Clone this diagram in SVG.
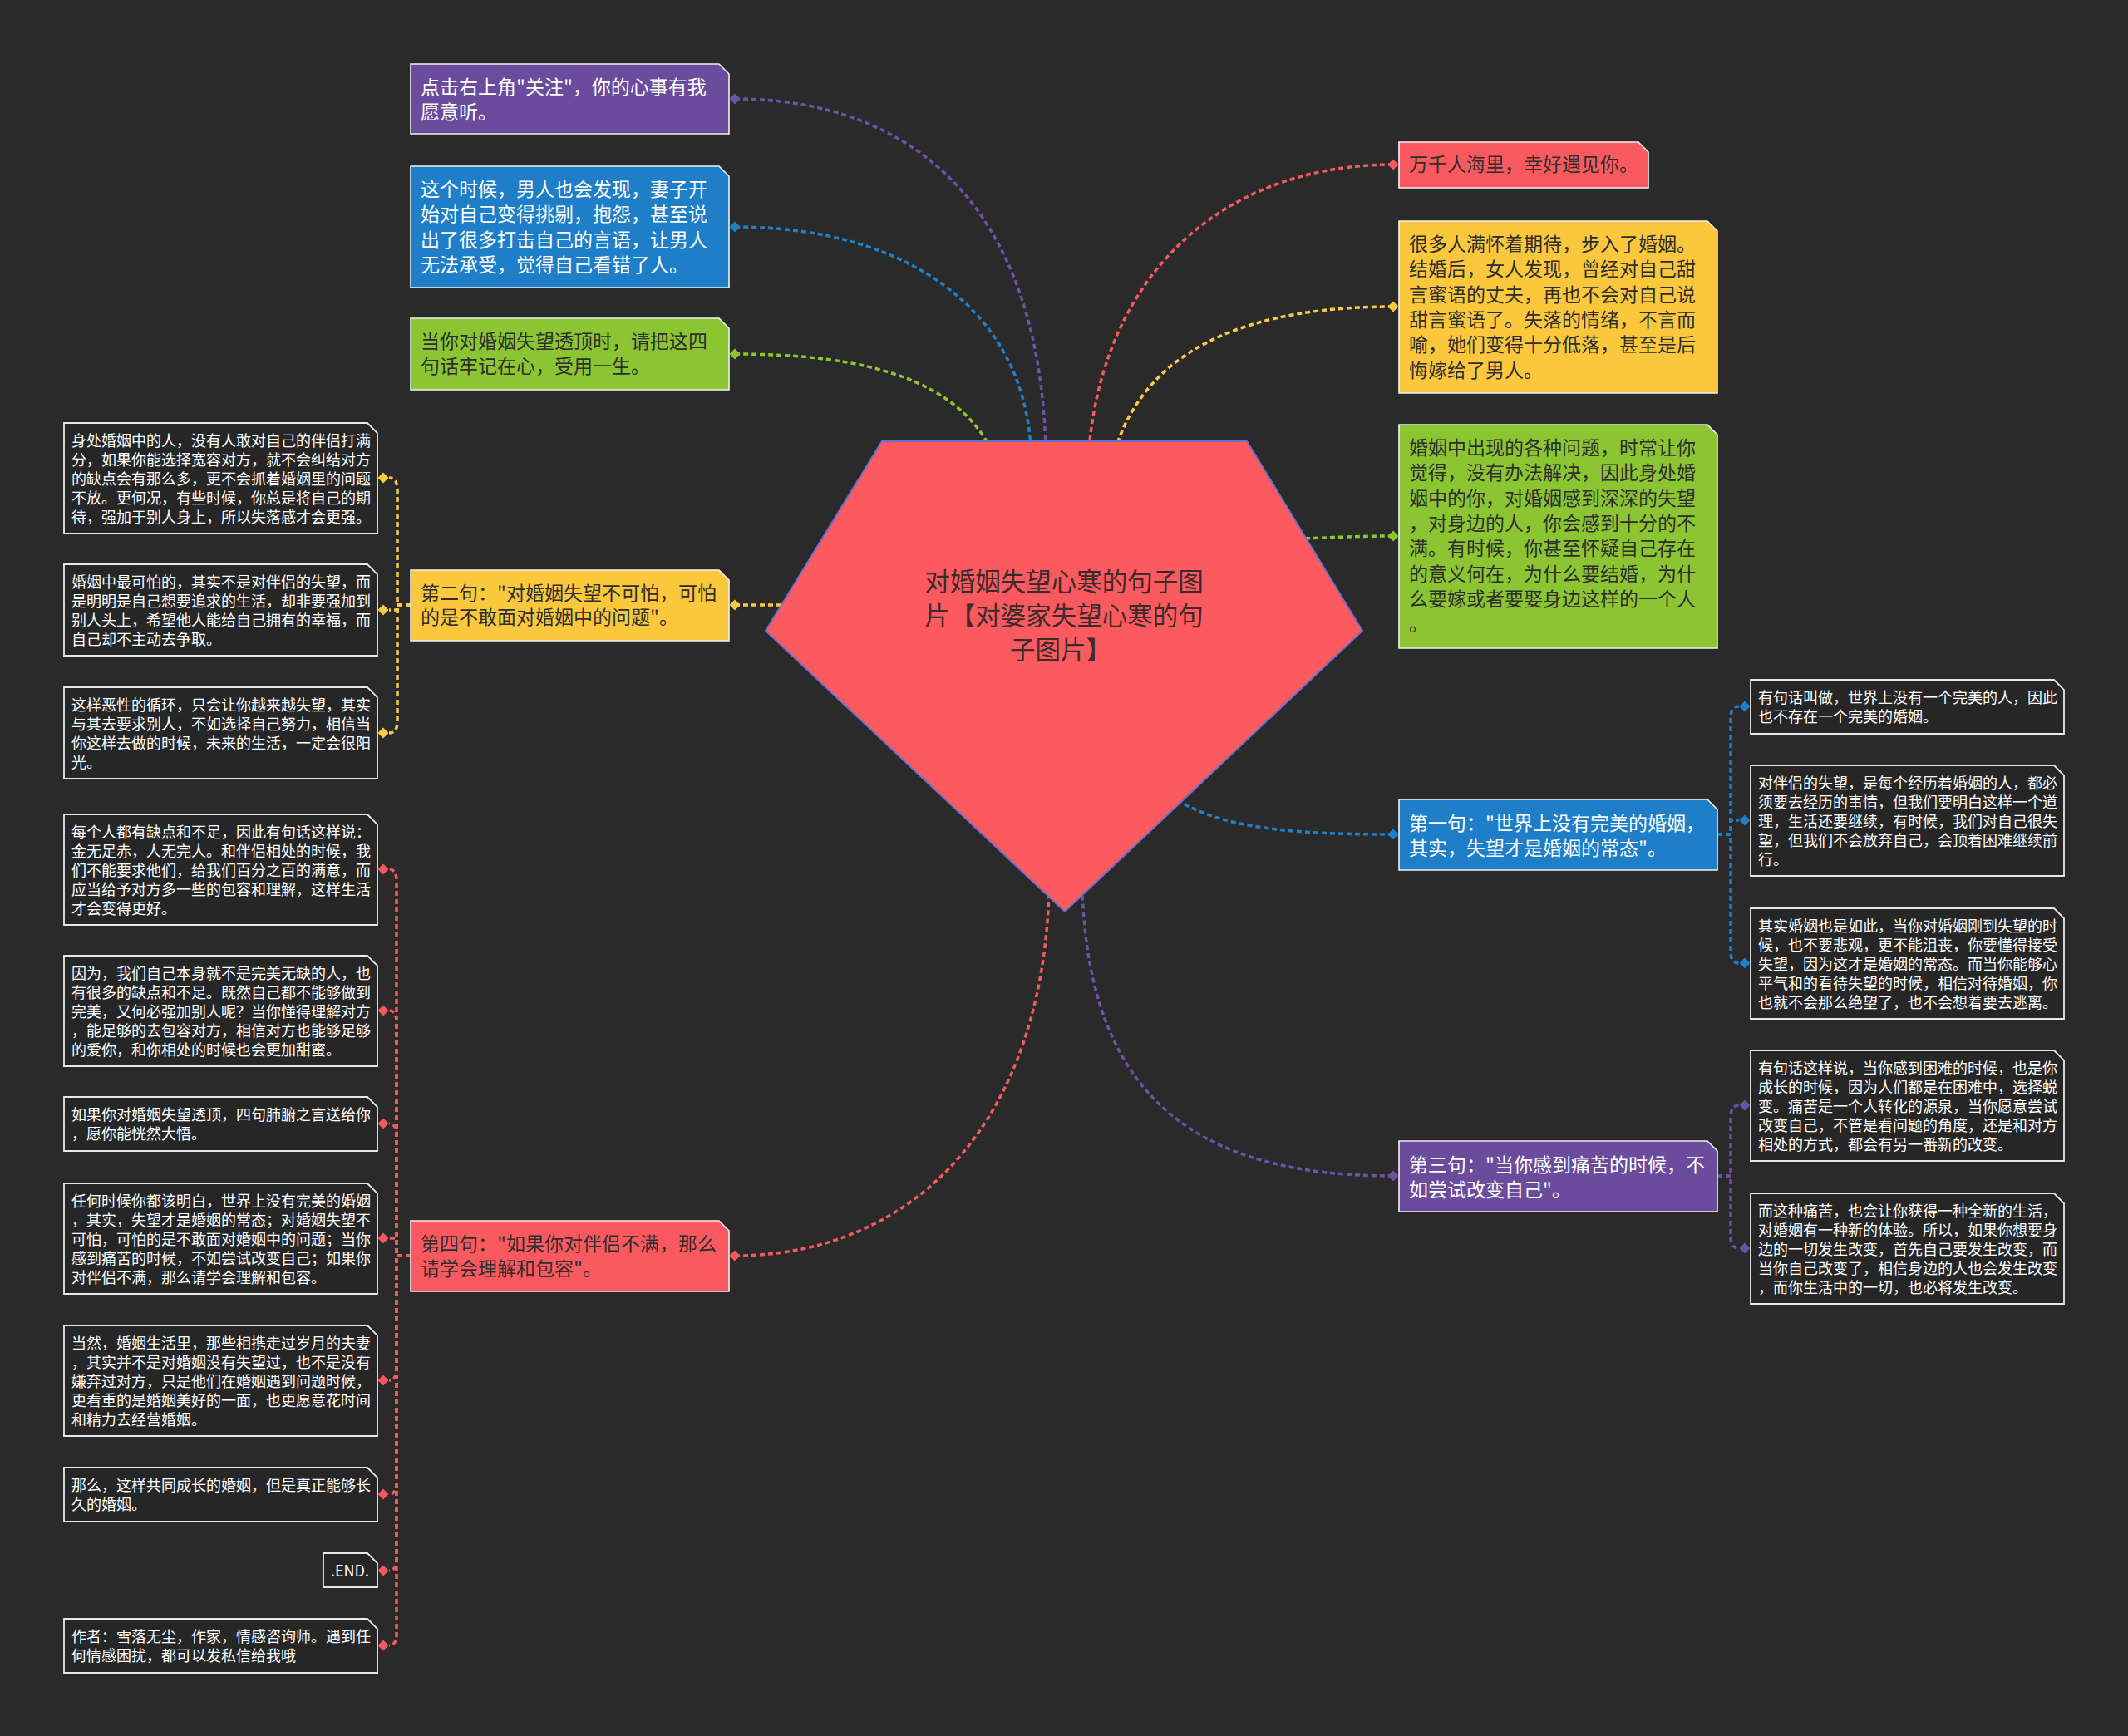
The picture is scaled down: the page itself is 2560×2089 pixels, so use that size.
<svg xmlns="http://www.w3.org/2000/svg" width="2560" height="2089" viewBox="0 0 2560 2089">
<defs>
<style>
text{font-family:"Noto Sans CJK SC","Noto Sans",sans-serif;}
.t23{font-size:23px;}
.t18{font-size:18px;fill:#ffffff;}
.w{fill:#ffffff;}
.d{fill:#2e2e2e;}
.box{stroke:#f2f2f2;stroke-width:1.6;}
.leaf{fill:#262626;stroke:#e8e8e8;stroke-width:1.8;}
.c{fill:none;stroke-width:3.5;stroke-dasharray:6 4;}
.cp{stroke:#6e52a6;} .cb{stroke:#1f80c9;} .cg{stroke:#8cc532;} .cy{stroke:#f6cc45;} .cr{stroke:#f25a5f;}
</style>
</defs>
<rect x="0" y="0" width="2560" height="2089" fill="#2a2a2a"/>

<g id="connectors">
<path class="c cp" d="M884,119 C1100,119 1250,250 1258,540"/>
<path class="c cb" d="M884,273 C1100,273 1232,380 1240,540"/>
<path class="c cg" d="M884,426 C1050,426 1150,460 1192,540"/>
<path class="c cy" d="M884,728 L945,728"/>
<path class="c cr" d="M884,1511 C1100,1511 1255,1350 1262,1070"/>
<path class="c cr" d="M1676,198 C1480,198 1330,320 1310,540"/>
<path class="c cy" d="M1676,369 C1500,369 1380,420 1342,540"/>
<path class="c cg" d="M1676,645 C1630,645 1600,647 1565,648"/>
<path class="c cb" d="M1676,1004 C1550,1004 1470,996 1415,962"/>
<path class="c cp" d="M1676,1415 C1450,1415 1310,1330 1302,1070"/>
<path class="c cy" d="M494,728 H478 V589 Q478,575 468,575"/>
<path class="c cy" d="M494,728 H478 V734 H468"/>
<path class="c cy" d="M494,728 H478 V868 Q478,882 468,882"/>
<path class="c cr" d="M494,1511 H477 V1060 Q477,1046 468,1046"/>
<path class="c cr" d="M494,1511 H477 V1230 Q477,1216 468,1216"/>
<path class="c cr" d="M494,1511 H477 V1366 Q477,1352 468,1352"/>
<path class="c cr" d="M494,1511 H477 V1490 H468"/>
<path class="c cr" d="M494,1511 H477 V1647 Q477,1661 468,1661"/>
<path class="c cr" d="M494,1511 H477 V1784 Q477,1798 468,1798"/>
<path class="c cr" d="M494,1511 H477 V1876 Q477,1890 468,1890"/>
<path class="c cr" d="M494,1511 H477 V1966 Q477,1980 468,1980"/>
<path class="c cb" d="M2066,1004 H2082 V864 Q2082,850 2092,850"/>
<path class="c cb" d="M2066,1004 H2082 V987 H2092"/>
<path class="c cb" d="M2066,1004 H2082 V1145 Q2082,1159 2092,1159"/>
<path class="c cp" d="M2066,1415 H2082 V1344 Q2082,1330 2092,1330"/>
<path class="c cp" d="M2066,1415 H2082 V1488 Q2082,1502 2092,1502"/>
</g>

<g id="center">
<polygon points="1061,531 1500,531 1639,759 1281,1097 921,759" fill="#fc5a5e" stroke="#6b70cf" stroke-width="2"/>
<text x="1280" y="711" font-size="30.5" fill="#3b2b2d" text-anchor="middle">对婚姻失望心寒的句子图</text>
<text x="1280" y="752" font-size="30.5" fill="#3b2b2d" text-anchor="middle">片【对婆家失望心寒的句</text>
<text x="1276" y="793" font-size="30.5" fill="#3b2b2d" text-anchor="middle">子图片】</text>
</g>

<g id="n-guanzhu">
<path class="box" fill="#6b4c9c" d="M494,77 H865 L877,89 V161 H494 Z"/>
<text class="t23 w" x="506" y="113">点击右上角"关注"，你的心事有我</text>
<text class="t23 w" x="506" y="143">愿意听。</text>
<path fill="#6e52a6" d="M884,112.5 L890.5,119 L884,125.5 L877.5,119 Z"/>
</g>
<g id="n-zhegeshihou">
<path class="box" fill="#1e7ec8" d="M494,200 H865 L877,212 V346 H494 Z"/>
<text class="t23 w" x="506" y="236">这个时候，男人也会发现，妻子开</text>
<text class="t23 w" x="506" y="266">始对自己变得挑剔，抱怨，甚至说</text>
<text class="t23 w" x="506" y="297">出了很多打击自己的言语，让男人</text>
<text class="t23 w" x="506" y="327">无法承受，觉得自己看错了人。</text>
<path fill="#1f80c9" d="M884,266.5 L890.5,273 L884,279.5 L877.5,273 Z"/>
</g>
<g id="n-dangni">
<path class="box" fill="#8cc532" d="M494,383 H865 L877,395 V469 H494 Z"/>
<text class="t23 d" x="506" y="419">当你对婚姻失望透顶时，请把这四</text>
<text class="t23 d" x="506" y="449">句话牢记在心，受用一生。</text>
<path fill="#8cc532" d="M884,419.5 L890.5,426 L884,432.5 L877.5,426 Z"/>
</g>
<g id="n-dierju">
<path class="box" fill="#fbc73c" d="M494,686 H865 L877,698 V771 H494 Z"/>
<text class="t23 d" x="506" y="722">第二句："对婚姻失望不可怕，可怕</text>
<text class="t23 d" x="506" y="751">的是不敢面对婚姻中的问题"。</text>
<path fill="#f6cc45" d="M884,721.5 L890.5,728 L884,734.5 L877.5,728 Z"/>
</g>
<g id="n-disiju">
<path class="box" fill="#fa5a5f" d="M494,1469 H865 L877,1481 V1554 H494 Z"/>
<text class="t23 d" x="506" y="1505">第四句："如果你对伴侣不满，那么</text>
<text class="t23 d" x="506" y="1535">请学会理解和包容"。</text>
<path fill="#f25a5f" d="M884,1504.5 L890.5,1511 L884,1517.5 L877.5,1511 Z"/>
</g>

<g id="n-wanqian">
<path class="box" fill="#fa5a5f" d="M1683,171 H1971 L1983,183 V226 H1683 Z"/>
<text class="t23 d" x="1695" y="206">万千人海里，幸好遇见你。</text>
<path fill="#f25a5f" d="M1676,191.5 L1682.5,198 L1676,204.5 L1669.5,198 Z"/>
</g>
<g id="n-henduoren">
<path class="box" fill="#fbc73c" d="M1683,266 H2054 L2066,278 V473 H1683 Z"/>
<text class="t23 d" x="1695" y="302">很多人满怀着期待，步入了婚姻。</text>
<text class="t23 d" x="1695" y="332">结婚后，女人发现，曾经对自己甜</text>
<text class="t23 d" x="1695" y="363">言蜜语的丈夫，再也不会对自己说</text>
<text class="t23 d" x="1695" y="393">甜言蜜语了。失落的情绪，不言而</text>
<text class="t23 d" x="1695" y="423">喻，她们变得十分低落，甚至是后</text>
<text class="t23 d" x="1695" y="454">悔嫁给了男人。</text>
<path fill="#f6cc45" d="M1676,362.5 L1682.5,369 L1676,375.5 L1669.5,369 Z"/>
</g>
<g id="n-hunyinzhong">
<path class="box" fill="#8cc532" d="M1683,511 H2054 L2066,523 V780 H1683 Z"/>
<text class="t23 d" x="1695" y="547">婚姻中出现的各种问题，时常让你</text>
<text class="t23 d" x="1695" y="577">觉得，没有办法解决，因此身处婚</text>
<text class="t23 d" x="1695" y="608">姻中的你，对婚姻感到深深的失望</text>
<text class="t23 d" x="1695" y="638">，对身边的人，你会感到十分的不</text>
<text class="t23 d" x="1695" y="668">满。有时候，你甚至怀疑自己存在</text>
<text class="t23 d" x="1695" y="699">的意义何在，为什么要结婚，为什</text>
<text class="t23 d" x="1695" y="729">么要嫁或者要娶身边这样的一个人</text>
<text class="t23 d" x="1695" y="759">。</text>
<path fill="#8cc532" d="M1676,638.5 L1682.5,645 L1676,651.5 L1669.5,645 Z"/>
</g>
<g id="n-diyiju">
<path class="box" fill="#1e7ec8" d="M1683,962 H2054 L2066,974 V1047 H1683 Z"/>
<text class="t23 w" x="1695" y="999">第一句："世界上没有完美的婚姻，</text>
<text class="t23 w" x="1695" y="1029">其实，失望才是婚姻的常态"。</text>
<path fill="#1f80c9" d="M1676,997.5 L1682.5,1004 L1676,1010.5 L1669.5,1004 Z"/>
</g>
<g id="n-disanju">
<path class="box" fill="#6b4c9c" d="M1683,1373 H2054 L2066,1385 V1458 H1683 Z"/>
<text class="t23 w" x="1695" y="1410">第三句："当你感到痛苦的时候，不</text>
<text class="t23 w" x="1695" y="1440">如尝试改变自己"。</text>
<path fill="#6e52a6" d="M1676,1408.5 L1682.5,1415 L1676,1421.5 L1669.5,1415 Z"/>
</g>

<g id="leaf-l1">
<path class="leaf" d="M77,509 H442 L454,521 V642 H77 Z"/>
<text class="t18" x="86" y="537">身处婚姻中的人，没有人敢对自己的伴侣打满</text>
<text class="t18" x="86" y="560">分，如果你能选择宽容对方，就不会纠结对方</text>
<text class="t18" x="86" y="583">的缺点会有那么多，更不会抓着婚姻里的问题</text>
<text class="t18" x="86" y="606">不放。更何况，有些时候，你总是将自己的期</text>
<text class="t18" x="86" y="629">待，强加于别人身上，所以失落感才会更强。</text>
<path fill="#f6cc45" d="M461,568.5 L467.5,575 L461,581.5 L454.5,575 Z"/>
</g>
<g id="leaf-l2">
<path class="leaf" d="M77,679 H442 L454,691 V789 H77 Z"/>
<text class="t18" x="86" y="707">婚姻中最可怕的，其实不是对伴侣的失望，而</text>
<text class="t18" x="86" y="730">是明明是自己想要追求的生活，却非要强加到</text>
<text class="t18" x="86" y="753">别人头上，希望他人能给自己拥有的幸福，而</text>
<text class="t18" x="86" y="776">自己却不主动去争取。</text>
<path fill="#f6cc45" d="M461,727.5 L467.5,734 L461,740.5 L454.5,734 Z"/>
</g>
<g id="leaf-l3">
<path class="leaf" d="M77,827 H442 L454,839 V937 H77 Z"/>
<text class="t18" x="86" y="855">这样恶性的循环，只会让你越来越失望，其实</text>
<text class="t18" x="86" y="878">与其去要求别人，不如选择自己努力，相信当</text>
<text class="t18" x="86" y="901">你这样去做的时候，未来的生活，一定会很阳</text>
<text class="t18" x="86" y="924">光。</text>
<path fill="#f6cc45" d="M461,875.5 L467.5,882 L461,888.5 L454.5,882 Z"/>
</g>

<g id="leaf-r1">
<path class="leaf" d="M77,980 H442 L454,992 V1113 H77 Z"/>
<text class="t18" x="86" y="1008">每个人都有缺点和不足，因此有句话这样说：</text>
<text class="t18" x="86" y="1031">金无足赤，人无完人。和伴侣相处的时候，我</text>
<text class="t18" x="86" y="1054">们不能要求他们，给我们百分之百的满意，而</text>
<text class="t18" x="86" y="1077">应当给予对方多一些的包容和理解，这样生活</text>
<text class="t18" x="86" y="1100">才会变得更好。</text>
<path fill="#f25a5f" d="M461,1039.5 L467.5,1046 L461,1052.5 L454.5,1046 Z"/>
</g>
<g id="leaf-r2">
<path class="leaf" d="M77,1150 H442 L454,1162 V1283 H77 Z"/>
<text class="t18" x="86" y="1178">因为，我们自己本身就不是完美无缺的人，也</text>
<text class="t18" x="86" y="1201">有很多的缺点和不足。既然自己都不能够做到</text>
<text class="t18" x="86" y="1224">完美，又何必强加别人呢？当你懂得理解对方</text>
<text class="t18" x="86" y="1247">，能足够的去包容对方，相信对方也能够足够</text>
<text class="t18" x="86" y="1270">的爱你，和你相处的时候也会更加甜蜜。</text>
<path fill="#f25a5f" d="M461,1209.5 L467.5,1216 L461,1222.5 L454.5,1216 Z"/>
</g>
<g id="leaf-r3">
<path class="leaf" d="M77,1320 H442 L454,1332 V1385 H77 Z"/>
<text class="t18" x="86" y="1348">如果你对婚姻失望透顶，四句肺腑之言送给你</text>
<text class="t18" x="86" y="1371">，愿你能恍然大悟。</text>
<path fill="#f25a5f" d="M461,1345.5 L467.5,1352 L461,1358.5 L454.5,1352 Z"/>
</g>
<g id="leaf-r4">
<path class="leaf" d="M77,1424 H442 L454,1436 V1557 H77 Z"/>
<text class="t18" x="86" y="1452">任何时候你都该明白，世界上没有完美的婚姻</text>
<text class="t18" x="86" y="1475">，其实，失望才是婚姻的常态；对婚姻失望不</text>
<text class="t18" x="86" y="1498">可怕，可怕的是不敢面对婚姻中的问题；当你</text>
<text class="t18" x="86" y="1521">感到痛苦的时候，不如尝试改变自己；如果你</text>
<text class="t18" x="86" y="1544">对伴侣不满，那么请学会理解和包容。</text>
<path fill="#f25a5f" d="M461,1483.5 L467.5,1490 L461,1496.5 L454.5,1490 Z"/>
</g>
<g id="leaf-r5">
<path class="leaf" d="M77,1595 H442 L454,1607 V1728 H77 Z"/>
<text class="t18" x="86" y="1623">当然，婚姻生活里，那些相携走过岁月的夫妻</text>
<text class="t18" x="86" y="1646">，其实并不是对婚姻没有失望过，也不是没有</text>
<text class="t18" x="86" y="1669">嫌弃过对方，只是他们在婚姻遇到问题时候，</text>
<text class="t18" x="86" y="1692">更看重的是婚姻美好的一面，也更愿意花时间</text>
<text class="t18" x="86" y="1715">和精力去经营婚姻。</text>
<path fill="#f25a5f" d="M461,1654.5 L467.5,1661 L461,1667.5 L454.5,1661 Z"/>
</g>
<g id="leaf-r6">
<path class="leaf" d="M77,1766 H442 L454,1778 V1831 H77 Z"/>
<text class="t18" x="86" y="1794">那么，这样共同成长的婚姻，但是真正能够长</text>
<text class="t18" x="86" y="1817">久的婚姻。</text>
<path fill="#f25a5f" d="M461,1791.5 L467.5,1798 L461,1804.5 L454.5,1798 Z"/>
</g>
<g id="leaf-r7">
<path class="leaf" d="M389,1869 H442 L454,1881 V1910 H389 Z"/>
<text class="t18" x="398" y="1897">.END.</text>
<path fill="#f25a5f" d="M461,1883.5 L467.5,1890 L461,1896.5 L454.5,1890 Z"/>
</g>
<g id="leaf-r8">
<path class="leaf" d="M77,1948 H442 L454,1960 V2013 H77 Z"/>
<text class="t18" x="86" y="1976">作者：雪落无尘，作家，情感咨询师。遇到任</text>
<text class="t18" x="86" y="1999">何情感困扰，都可以发私信给我哦</text>
<path fill="#f25a5f" d="M461,1973.5 L467.5,1980 L461,1986.5 L454.5,1980 Z"/>
</g>

<g id="leaf-b1">
<path class="leaf" d="M2106,818 H2471 L2483,830 V883 H2106 Z"/>
<text class="t18" x="2115" y="846">有句话叫做，世界上没有一个完美的人，因此</text>
<text class="t18" x="2115" y="869">也不存在一个完美的婚姻。</text>
<path fill="#1f80c9" d="M2099,843.5 L2105.5,850 L2099,856.5 L2092.5,850 Z"/>
</g>
<g id="leaf-b2">
<path class="leaf" d="M2106,921 H2471 L2483,933 V1054 H2106 Z"/>
<text class="t18" x="2115" y="949">对伴侣的失望，是每个经历着婚姻的人，都必</text>
<text class="t18" x="2115" y="972">须要去经历的事情，但我们要明白这样一个道</text>
<text class="t18" x="2115" y="995">理，生活还要继续，有时候，我们对自己很失</text>
<text class="t18" x="2115" y="1018">望，但我们不会放弃自己，会顶着困难继续前</text>
<text class="t18" x="2115" y="1041">行。</text>
<path fill="#1f80c9" d="M2099,980.5 L2105.5,987 L2099,993.5 L2092.5,987 Z"/>
</g>
<g id="leaf-b3">
<path class="leaf" d="M2106,1093 H2471 L2483,1105 V1226 H2106 Z"/>
<text class="t18" x="2115" y="1121">其实婚姻也是如此，当你对婚姻刚到失望的时</text>
<text class="t18" x="2115" y="1144">候，也不要悲观，更不能沮丧，你要懂得接受</text>
<text class="t18" x="2115" y="1167">失望，因为这才是婚姻的常态。而当你能够心</text>
<text class="t18" x="2115" y="1190">平气和的看待失望的时候，相信对待婚姻，你</text>
<text class="t18" x="2115" y="1213">也就不会那么绝望了，也不会想着要去逃离。</text>
<path fill="#1f80c9" d="M2099,1152.5 L2105.5,1159 L2099,1165.5 L2092.5,1159 Z"/>
</g>

<g id="leaf-p1">
<path class="leaf" d="M2106,1264 H2471 L2483,1276 V1397 H2106 Z"/>
<text class="t18" x="2115" y="1292">有句话这样说，当你感到困难的时候，也是你</text>
<text class="t18" x="2115" y="1315">成长的时候，因为人们都是在困难中，选择蜕</text>
<text class="t18" x="2115" y="1338">变。痛苦是一个人转化的源泉，当你愿意尝试</text>
<text class="t18" x="2115" y="1361">改变自己，不管是看问题的角度，还是和对方</text>
<text class="t18" x="2115" y="1384">相处的方式，都会有另一番新的改变。</text>
<path fill="#6e52a6" d="M2099,1323.5 L2105.5,1330 L2099,1336.5 L2092.5,1330 Z"/>
</g>
<g id="leaf-p2">
<path class="leaf" d="M2106,1436 H2471 L2483,1448 V1569 H2106 Z"/>
<text class="t18" x="2115" y="1464">而这种痛苦，也会让你获得一种全新的生活，</text>
<text class="t18" x="2115" y="1487">对婚姻有一种新的体验。所以，如果你想要身</text>
<text class="t18" x="2115" y="1510">边的一切发生改变，首先自己要发生改变，而</text>
<text class="t18" x="2115" y="1533">当你自己改变了，相信身边的人也会发生改变</text>
<text class="t18" x="2115" y="1556">，而你生活中的一切，也必将发生改变。</text>
<path fill="#6e52a6" d="M2099,1495.5 L2105.5,1502 L2099,1508.5 L2092.5,1502 Z"/>
</g>
</svg>
